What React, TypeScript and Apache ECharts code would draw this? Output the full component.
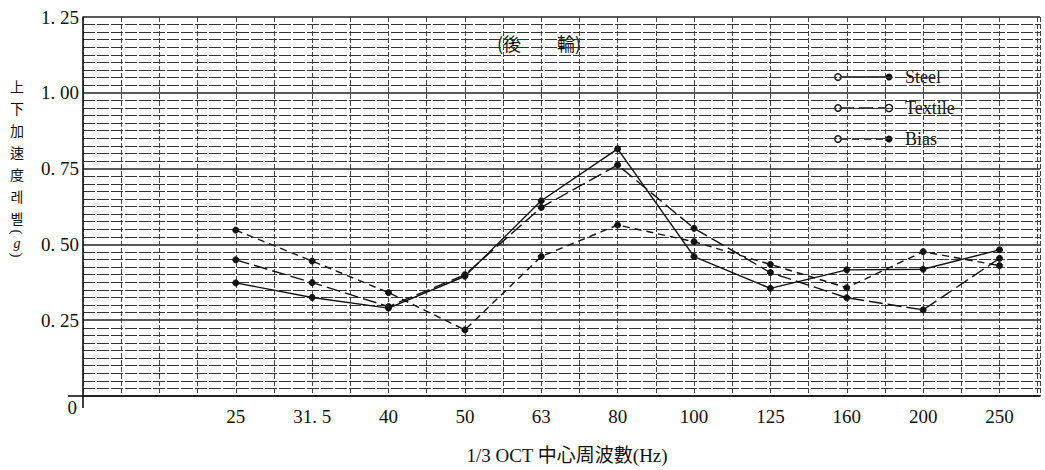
import React, { useEffect, useRef } from "react";
import * as echarts from "echarts";

const categories = ["25", "31. 5", "40", "50", "63", "80", "100", "125", "160", "200", "250"];
const steel = [0.373, 0.325, 0.29, 0.395, 0.644, 0.815, 0.46, 0.355, 0.416, 0.418, 0.482];
const textile = [0.449, 0.374, 0.295, 0.4, 0.622, 0.762, 0.553, 0.407, 0.324, 0.284, 0.454];
const bias = [0.547, 0.445, 0.341, 0.218, 0.46, 0.564, 0.509, 0.434, 0.357, 0.476, 0.43];
const seriesNames = ["Steel", "Textile", "Bias"];
const yTickLabels = ["0", "0. 25", "0. 50", "0. 75", "1. 00", "1. 25"];
const yNameChars = ["上", "下", "加", "速", "度", "레", "벨", "(", "g", ")"];
const yNameY = [86, 108, 130, 152, 174, 196, 218, 232, 243, 255];

const SERIF = "'Liberation Serif', 'DejaVu Serif', 'Noto Sans CJK KR', serif";
const CJK = "'Noto Sans CJK KR', 'Noto Sans CJK TC', sans-serif";
const INK = "#111";

export default function App() {
  const ref = useRef<HTMLDivElement>(null);
  useEffect(() => {
    if (!ref.current) return;
    const chart = echarts.init(ref.current, undefined, { renderer: "svg" });
    const toPts = (arr: number[]) => arr.map((v, i) => [i, v]);
    const dashes: any[] = ["solid", [14, 5], [7, 5]];
    const datasets = [steel, textile, bias];

    const legendChildren: any[] = [
      { type: "rect", shape: { x: 828, y: 62, width: 147, height: 90 }, style: { fill: "#fff" } },
    ];
    seriesNames.forEach((name, k) => {
      const y0 = 77 + k * 31;
      legendChildren.push(
        { type: "line", shape: { x1: 840, y1: y0, x2: 888, y2: y0 }, style: { stroke: INK, lineWidth: 1.4, lineDash: k === 0 ? null : dashes[k] } },
        { type: "circle", shape: { cx: 838, cy: y0, r: 3.2 }, style: { fill: "#fff", stroke: INK, lineWidth: 1.4 } },
        { type: "circle", shape: { cx: 889, cy: y0, r: k === 1 ? 3.6 : 2.8 }, style: { fill: k === 1 ? "#fff" : INK, stroke: INK, lineWidth: 1.4 } },
        { type: "text", x: 905, y: y0, style: { text: name, font: `18px ${SERIF}`, fill: INK, verticalAlign: "middle", textAlign: "left" } }
      );
    });

    const yName = yNameChars.map((c, i) => {
      const paren = c === "(" || c === ")";
      return {
        type: "text",
        x: 17,
        y: yNameY[i],
        rotation: paren ? -Math.PI / 2 : 0,
        style: {
          text: c,
          font: c === "g" ? `italic 14px ${SERIF}` : paren ? `15px ${SERIF}` : `14px ${CJK}`,
          fill: INK,
          textAlign: "center",
          verticalAlign: "middle",
        },
      };
    });

    chart.setOption({
      animation: false,
      backgroundColor: "#fff",
      grid: { left: 83, right: 5, top: 17, bottom: 74 },
      xAxis: {
        type: "value",
        min: -2,
        max: 10.53,
        interval: 0.5,
        axisLine: { show: true, onZero: false, lineStyle: { color: INK, width: 1.6 } },
        axisTick: { show: false },
        axisLabel: {
          margin: 11,
          fontSize: 19,
          fontFamily: SERIF,
          color: INK,
          showMinLabel: false,
          showMaxLabel: false,
          formatter: (v: number) => {
            const r = Math.round(v);
            if (Math.abs(v - r) < 1e-6 && r >= 0 && r < categories.length) return categories[r];
            return "";
          },
        },
        splitLine: { show: true, lineStyle: { color: "#444", width: 1, type: [5, 2] } },
      },
      yAxis: {
        type: "value",
        min: 0,
        max: 1.25,
        interval: 0.25,
        axisLine: { show: true, onZero: false, lineStyle: { color: INK, width: 1.6 } },
        axisTick: { show: false },
        axisLabel: {
          margin: 4,
          fontSize: 19,
          fontFamily: SERIF,
          color: INK,
          formatter: (v: number) => {
            const idx = Math.round(v / 0.25);
            return idx === 0 ? "" : yTickLabels[idx];
          },
        },
        splitLine: { show: true, lineStyle: { color: "#222", width: 1.6 } },
        minorTick: { show: false, splitNumber: 10 },
        minorSplitLine: { show: true, lineStyle: { color: "#333", width: 1, type: [12, 2] } },
      },
      series: datasets.map((d, k) => ({
        name: seriesNames[k],
        type: "line",
        data: toPts(d),
        symbol: "circle",
        symbolSize: 6,
        showSymbol: true,
        itemStyle: { color: INK, borderColor: INK },
        lineStyle: { color: INK, width: 1.4, type: dashes[k] },
        z: 5,
      })),
      graphic: [
        { type: "line", shape: { x1: 68, y1: 396, x2: 84, y2: 396 }, style: { stroke: INK, lineWidth: 1.6 } },
        { type: "line", shape: { x1: 83, y1: 396, x2: 83, y2: 408 }, style: { stroke: INK, lineWidth: 1.6 } },
        { type: "text", x: 77, y: 407, style: { text: yTickLabels[0], font: `19px ${SERIF}`, fill: INK, textAlign: "right", verticalAlign: "middle" } },
        { type: "rect", shape: { x: 483, y: 30, width: 114, height: 24 }, style: { fill: "#fff" } },
        { type: "text", x: 539, y: 43, style: { text: "(後　　輪)", font: `18px ${CJK}`, fill: INK, textAlign: "center", verticalAlign: "middle" } },
        { type: "text", x: 567, y: 455, style: { text: "1/3 OCT 中心周波數(Hz)", font: `19px ${SERIF}`, fill: INK, textAlign: "center", verticalAlign: "middle" } },
        { type: "group", children: legendChildren },
        { type: "group", children: yName },
      ],
    });
    return () => chart.dispose();
  }, []);
  return <div ref={ref} style={{ position: "fixed", left: 0, top: 0, width: 1045, height: 470 }} />;
}
